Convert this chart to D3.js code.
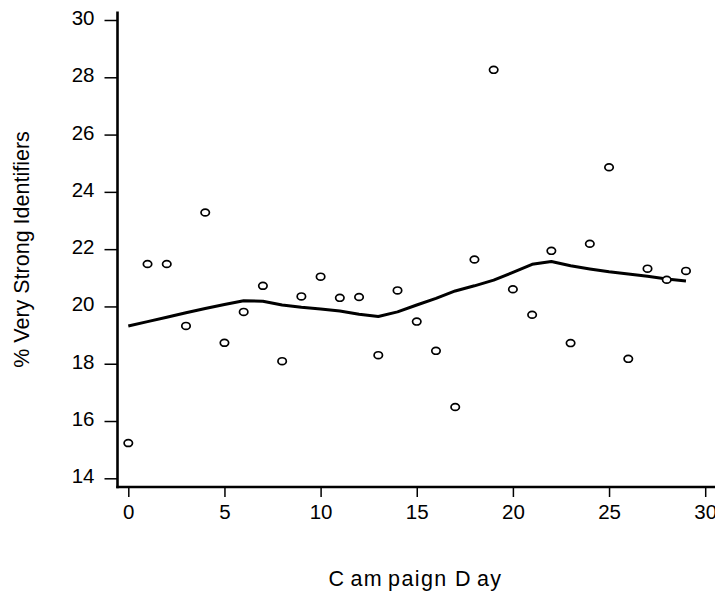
<!DOCTYPE html>
<html>
<head>
<meta charset="utf-8">
<script src="https://cdn.jsdelivr.net/npm/d3@7"></script>
<style>
  body { margin: 0; background: #ffffff; }
  svg { display: block; font-family: Arial, "Liberation Sans", sans-serif; }
</style>
</head>
<body>
<div id="chart"></div>
<script>
// campaign day, observed share of very strong identifiers, smoothed trend
const days = [0, 1, 2, 3, 4, 5, 6, 7, 8, 9, 10, 11, 12, 13, 14,
    15, 16, 17, 18, 19, 20, 21, 22, 23, 24, 25, 26, 27, 28, 29];
const pctStrong = [15.23, 21.48, 21.48, 19.32, 23.28, 18.73, 19.81, 20.72, 18.09, 20.35,
    21.04, 20.30, 20.33, 18.30, 20.56, 19.47, 18.45, 16.49, 21.64, 28.26,
    20.60, 19.71, 21.94, 18.72, 22.19, 24.86, 18.17, 21.32, 20.93, 21.24];
const smoothed = [19.32, 19.47, 19.62, 19.78, 19.93, 20.07, 20.20, 20.18, 20.05, 19.97,
    19.91, 19.84, 19.73, 19.65, 19.81, 20.05, 20.28, 20.54, 20.72, 20.92,
    21.19, 21.47, 21.57, 21.42, 21.31, 21.21, 21.13, 21.05, 20.96, 20.89];
const xTicks = [0, 5, 10, 15, 20, 25, 30];
const yTicks = [14, 16, 18, 20, 22, 24, 26, 28, 30];

function main() {
    const svgWidth = 715;
    const svgHeight = 597;

    const svg = d3.select('#chart').append('svg')
        .attr('width', svgWidth)
        .attr('height', svgHeight);

    const xScale = d3.scaleLinear().domain([0, 30]).range([128.3, 705.2]);
    const yScale = d3.scaleLinear().domain([14, 30]).range([478.3, 20]);

    const axisX = 117.5;   // vertical axis line position
    const axisY = 487;     // horizontal axis line position

    // y axis
    const yAxis = svg.append('g')
        .attr('transform', `translate(${axisX},0)`)
        .call(d3.axisLeft(yScale).tickValues(yTicks).tickSize(13).tickSizeOuter(0).tickPadding(10));
    yAxis.select('.domain').remove();
    yAxis.selectAll('.tick line').attr('stroke', '#000').attr('stroke-width', 1.5);
    yAxis.selectAll('.tick text')
        .attr('fill', '#000')
        .attr('dy', '0.22em')
        .style('font-size', '20.5px');

    // x axis
    const xAxis = svg.append('g')
        .attr('transform', `translate(0,${axisY})`)
        .call(d3.axisBottom(xScale).tickValues(xTicks).tickSize(10).tickSizeOuter(0).tickPadding(7));
    xAxis.select('.domain').remove();
    xAxis.selectAll('.tick line').attr('stroke', '#000').attr('stroke-width', 1.5);
    xAxis.selectAll('.tick text')
        .attr('fill', '#000')
        .style('font-size', '20.5px');

    // axis lines, drawn past the data range as in the original
    svg.append('line')
        .attr('x1', axisX).attr('x2', axisX)
        .attr('y1', 11.5).attr('y2', axisY + 1.2)
        .attr('stroke', '#000').attr('stroke-width', 2.6);
    svg.append('line')
        .attr('x1', axisX - 1.2).attr('x2', svgWidth)
        .attr('y1', axisY).attr('y2', axisY)
        .attr('stroke', '#000').attr('stroke-width', 2.6);

    // smoothed trend
    const lineGen = d3.line()
        .x((d, i) => xScale(days[i]))
        .y(d => yScale(d));
    svg.append('path')
        .datum(smoothed)
        .attr('fill', 'none')
        .attr('stroke', '#000')
        .attr('stroke-width', 3)
        .attr('stroke-linejoin', 'round')
        .attr('d', lineGen);

    // observed points
    svg.selectAll('.pt')
        .data(pctStrong)
        .enter()
        .append('ellipse')
        .attr('class', 'pt')
        .attr('cx', (d, i) => xScale(days[i]))
        .attr('cy', d => yScale(d))
        .attr('rx', 4.2)
        .attr('ry', 3.4)
        .attr('fill', '#fff')
        .attr('stroke', '#000')
        .attr('stroke-width', 1.7);

    // axis titles
    svg.append('text')
        .attr('transform', 'translate(29,249.5) rotate(-90)')
        .attr('text-anchor', 'middle')
        .attr('fill', '#000')
        .style('font-size', '21.5px')
        .text('% Very Strong Identifiers');

    const xTitle = svg.append('text')
        .attr('x', 415.5)
        .attr('y', 586)
        .attr('text-anchor', 'middle')
        .attr('fill', '#000')
        .style('font-size', '21.5px')
        .style('letter-spacing', '1.4px');
    xTitle.append('tspan').text('C');
    xTitle.append('tspan').attr('dx', 5).text('am');
    xTitle.append('tspan').attr('dx', 5).text('paign D');
    xTitle.append('tspan').attr('dx', 5).text('ay');
}

main();
</script>
</body>
</html>
